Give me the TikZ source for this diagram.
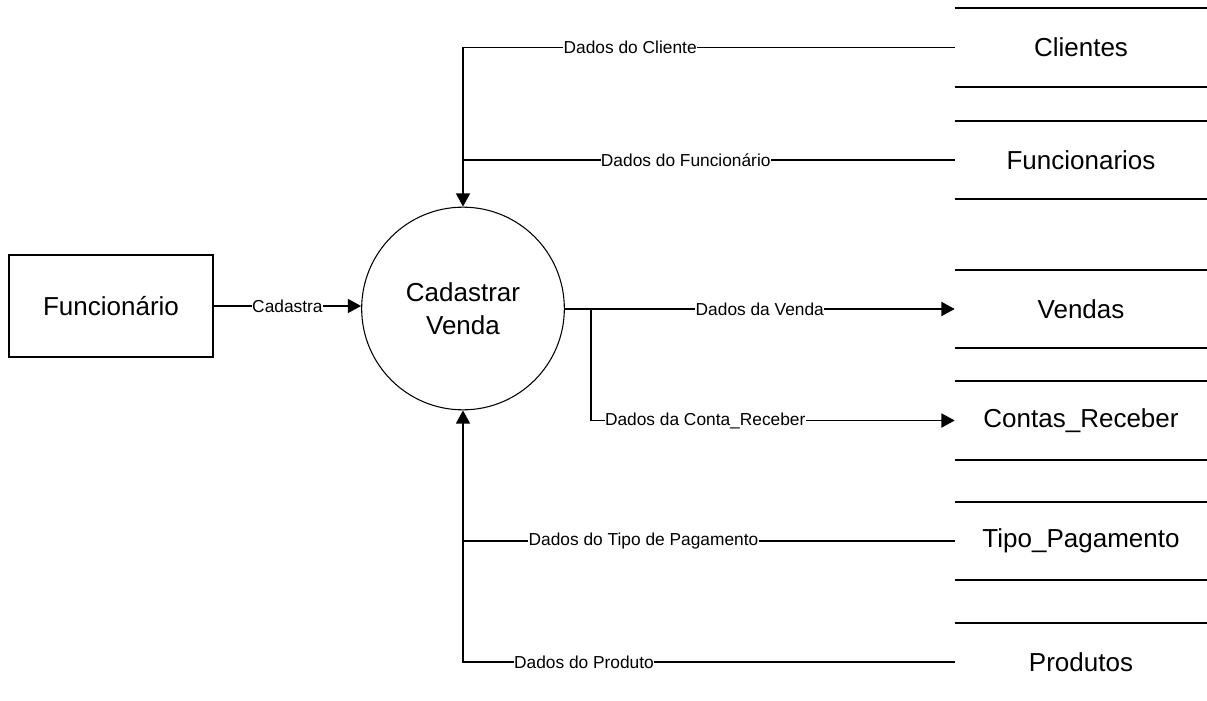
\documentclass[tikz,border=0pt]{standalone}
\usepackage{fontspec}
\setmainfont{Liberation Sans}
\usetikzlibrary{arrows.meta}

\begin{document}
\begin{tikzpicture}[x=0.75pt, y=-0.75pt,
    flow/.style={line width=1.4pt},
    arr/.style={-{Triangle[length=10pt, width=10.5pt]}},
    lbl/.style={fill=white, inner sep=0.3pt, font=\fontsize{13}{15}\selectfont},
    big/.style={font=\fontsize{19.5}{25}\selectfont},
    store/.style={big, minimum width=189pt, minimum height=58.5pt, inner sep=0pt}]
    \useasboundingbox (0, 0) rectangle (1207, 700);
    % entity and process
    \node[big, draw, line width=1pt, minimum width=153pt, minimum height=76.5pt] (fun) at (111, 306) {Funcionário};
    \node[big, draw, circle, line width=0.8pt, minimum size=152pt, inner sep=0pt, align=center] (proc) at (463, 308.5) {Cadastrar\\Venda};
    % data stores
    \node[store] (cli) at (1081, 47.5) {Clientes};
    \node[store] (fnc) at (1081, 160) {Funcionarios};
    \node[store] (vnd) at (1081, 309) {Vendas};
    \node[store] (ctr) at (1081, 420.5) {Contas\_Receber};
    \node[store] (tpg) at (1081, 541) {Tipo\_Pagamento};
    \node[store] (prd) at (1081, 662) {Produtos};
    \foreach \s in {cli, fnc, vnd, ctr, tpg} {
        \draw[flow] (\s.north west) -- (\s.north east) (\s.south west) -- (\s.south east);
    }
    \draw[flow] (prd.north west) -- (prd.north east);
    % flows into the process
    \draw[flow, arr] (fun.east) -- (fun.east -| proc.west) node[lbl, midway] (lcad) {Cadastra};
    \draw[flow, arr] (cli.west) -| (proc.north) node[lbl, pos=0.33] (lcli) {Dados do Cliente};
    \draw[flow] (fnc.west) -- (fnc.west -| proc.north) node[lbl, pos=0.547] (lfnc) {Dados do Funcionário};
    \draw[flow, arr] (prd.west) -| (proc.south) node[lbl, pos=0.377] (lprd) {Dados do Produto};
    \draw[flow] (tpg.west) -- (tpg.west -| proc.south) node[lbl, pos=0.633] (ltpg) {Dados do Tipo de Pagamento};
    % flows out of the process
    \coordinate (jv) at (591, 309);
    \draw[flow, arr] (proc.east |- vnd.west) -- (vnd.west) node[lbl, midway] (lvnd) {Dados da Venda};
    \draw[flow, arr] (jv) |- (ctr.west) node[lbl, pos=0.657] (lctr) {Dados da Conta\_Receber};
\end{tikzpicture}
\end{document}
